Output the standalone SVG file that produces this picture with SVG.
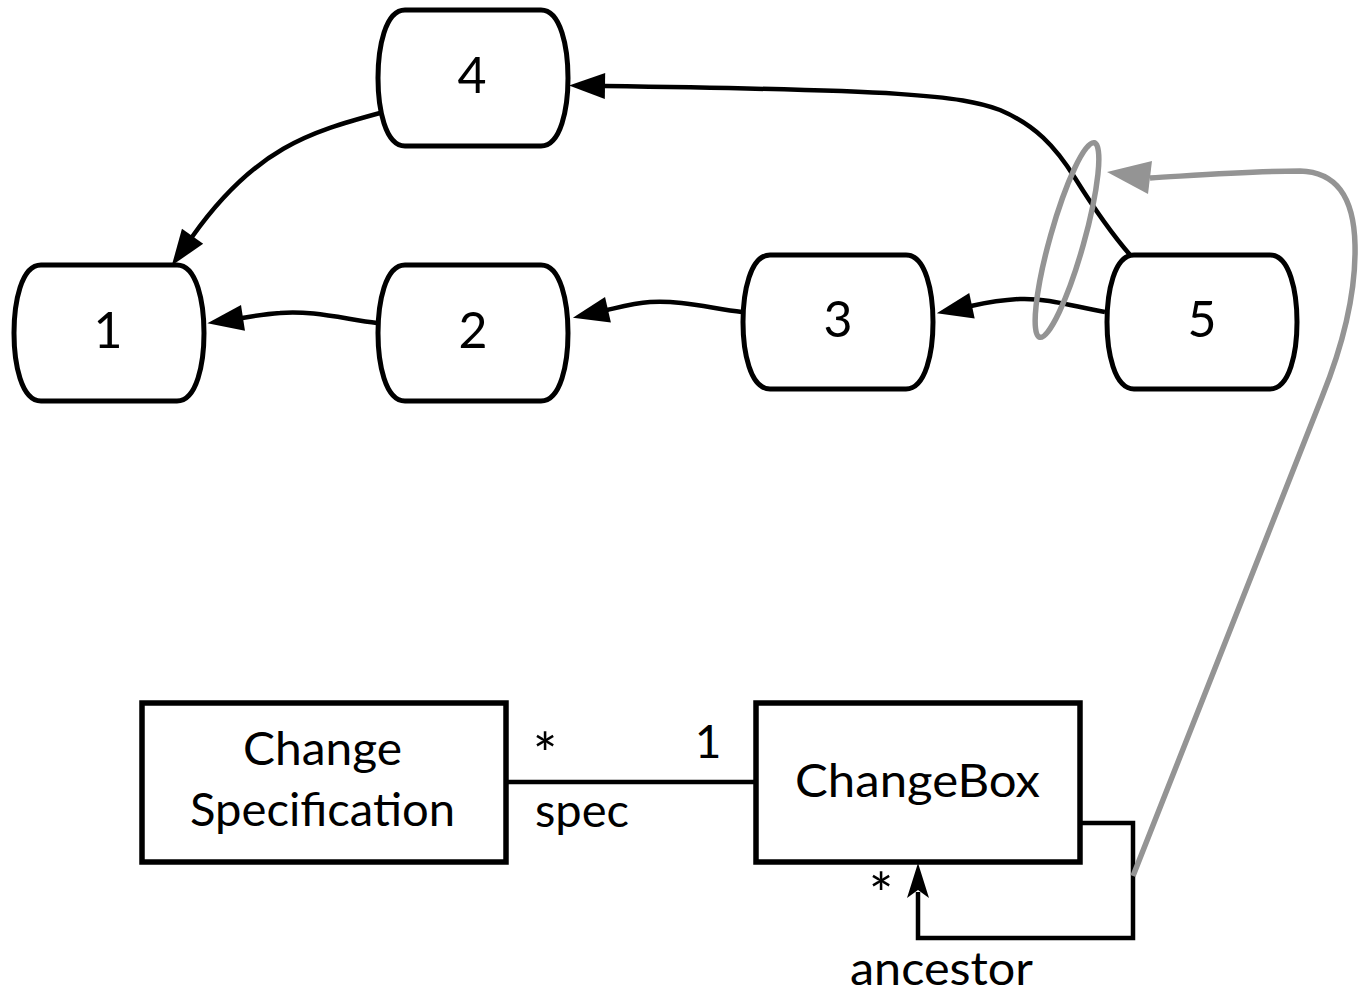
<svg xmlns="http://www.w3.org/2000/svg" xmlns:xlink="http://www.w3.org/1999/xlink" width="1358" height="994" viewBox="0 0 1358 994">
<style>
.node{fill:#fff;stroke:#000;stroke-width:5}
.box{fill:#fff;stroke:#000;stroke-width:5.5}
.lbl{font-family:Lato,"Open Sans","Liberation Sans",sans-serif;fill:#000}
.num{font-size:50px;text-anchor:middle}
.t{font-size:46px}
.ast{font-size:58px;text-anchor:middle}
.edge{fill:none;stroke:#000;stroke-width:4.5}
.gray{fill:none;stroke:#949494;stroke-width:5.5}
</style>
<defs>
<path id="cap" d="M27,0 H163 C183,0 190,38 190,68 C190,98 183,136 163,136 H27 C7,136 0,98 0,68 C0,38 7,0 27,0 Z"/>
<marker id="ah" markerUnits="userSpaceOnUse" markerWidth="40" markerHeight="30" refX="1" refY="13" orient="auto" overflow="visible">
<path d="M0,0 L36,13 L0,26 Z" fill="#000"/>
</marker>
</defs>
<g id="connectors">
<path class="edge" d="M1131,256 C1110,232 1095,210 1075,178 C1055,146 1035,125 1000,110 C960,95 900,90 604,86" marker-end="url(#ah)"/>
<path class="edge" d="M380,113 C310,132 255,148 192,237" marker-end="url(#ah)"/>
<path class="edge" d="M377,323 C345,319 310,310 280,313 C265,314 255,316 242,318" marker-end="url(#ah)"/>
<path class="edge" d="M742,312 C710,308 680,300 650,302 C635,303 620,307 607,310" marker-end="url(#ah)"/>
<path class="edge" d="M1105,312 C1075,307 1050,298 1020,299 C1000,300 985,303 971,306" marker-end="url(#ah)"/>
<line class="edge" x1="506" y1="782" x2="756" y2="782"/>
<path class="edge" d="M1080,823 H1133 V938 H918 V892"/>
<path d="M918,863 L929,898 L918,890 L907,898 Z" fill="#000"/>
<ellipse class="gray" cx="1067" cy="240" rx="17" ry="101" transform="rotate(15.7 1067 240)"/>
<path class="gray" d="M1133,876 L1322,397 C1345,340 1356,290 1355,245 C1354,195 1335,172 1300,171 C1250,171 1200,175 1150,178"/>
<path d="M1107,172 L1152,161 L1148,194 Z" fill="#949494"/>
</g>
<g id="node1"><use xlink:href="#cap" class="node" transform="translate(14,265)"/><text class="lbl num" x="108" y="348">1</text></g>
<g id="node2"><use xlink:href="#cap" class="node" transform="translate(378,265)"/><text class="lbl num" x="473" y="348">2</text></g>
<g id="node3"><use xlink:href="#cap" class="node" transform="translate(743,255) scale(1,0.985)"/><text class="lbl num" x="838" y="337">3</text></g>
<g id="node4"><use xlink:href="#cap" class="node" transform="translate(378,10)"/><text class="lbl num" x="472" y="93">4</text></g>
<g id="node5"><use xlink:href="#cap" class="node" transform="translate(1107,255) scale(1,0.985)"/><text class="lbl num" x="1202" y="337">5</text></g>
<g id="changespec">
<rect class="box" x="142" y="703" width="364" height="159"/>
<text class="lbl t" x="243" y="765" textLength="159" lengthAdjust="spacingAndGlyphs">Change</text>
<text class="lbl t" x="190" y="826" textLength="265" lengthAdjust="spacingAndGlyphs">Specification</text>
</g>
<g id="changebox">
<rect class="box" x="756" y="703" width="324" height="159"/>
<text class="lbl t" x="795" y="797" textLength="245" lengthAdjust="spacingAndGlyphs">ChangeBox</text>
</g>
<g id="labels">
<text class="lbl ast" x="545" y="775">*</text>
<text class="lbl t" x="708" y="758" text-anchor="middle">1</text>
<text class="lbl t" x="535" y="827" textLength="94" lengthAdjust="spacingAndGlyphs">spec</text>
<text class="lbl ast" x="881" y="915">*</text>
<text class="lbl t" x="850" y="985" textLength="183" lengthAdjust="spacingAndGlyphs">ancestor</text>
</g>
</svg>
